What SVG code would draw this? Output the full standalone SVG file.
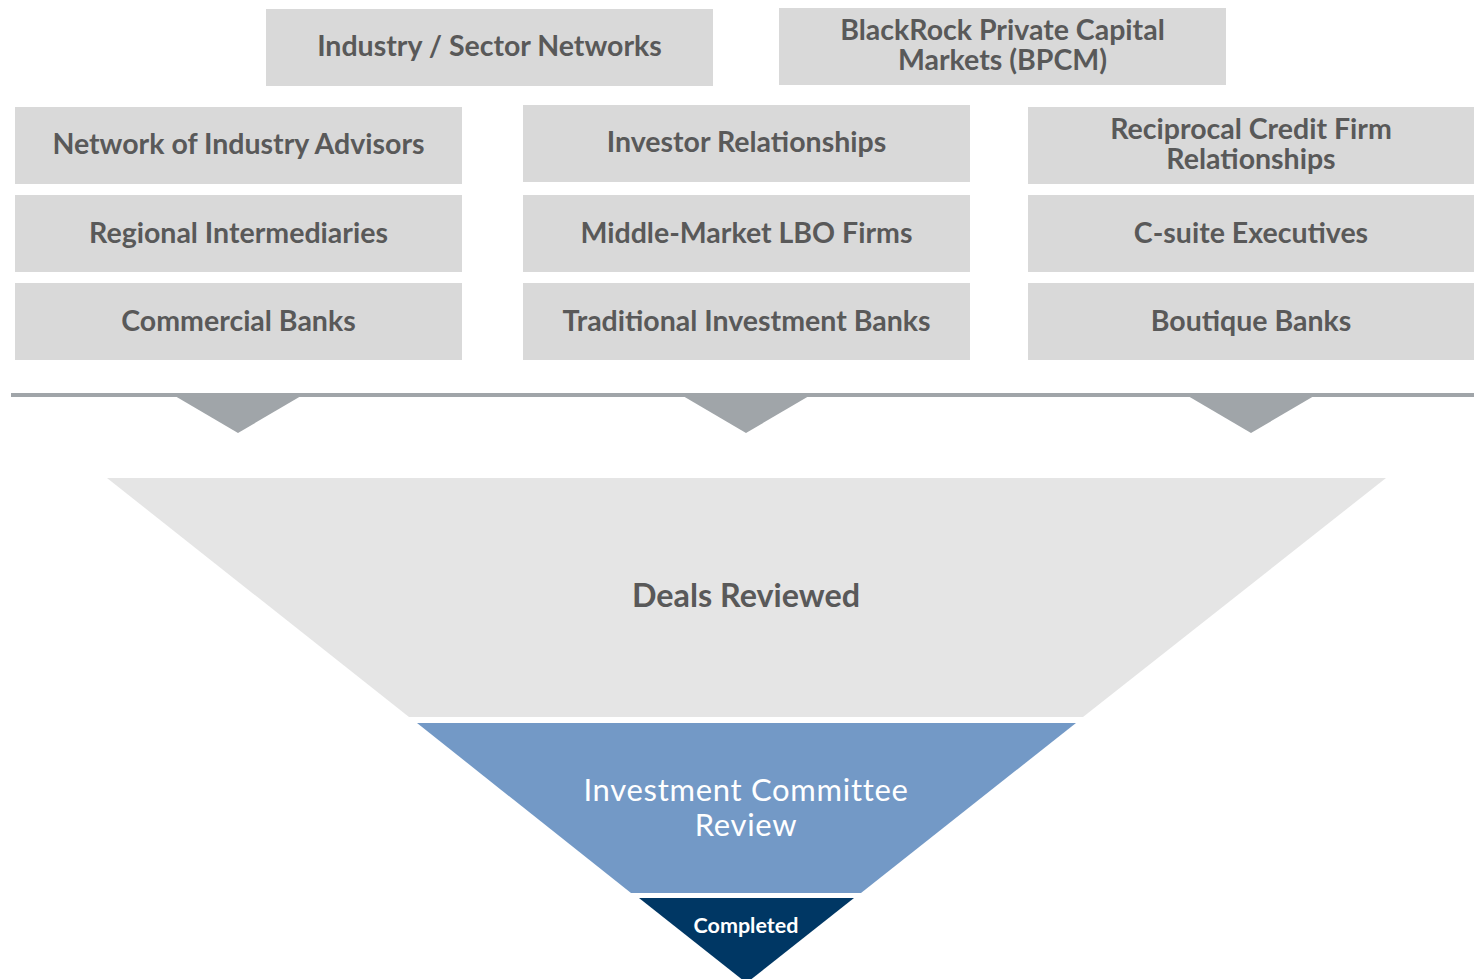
<svg xmlns="http://www.w3.org/2000/svg" width="1474" height="979" viewBox="0 0 1474 979">
<style>
.box{fill:#d9d9d9}
.bt{font-family:Lato,"Noto Sans",sans-serif;font-weight:700;font-size:28.5px;fill:#595959;text-anchor:middle}
.wt{font-family:Lato,"Noto Sans",sans-serif;font-size:31px;letter-spacing:0.7px;fill:#ffffff;text-anchor:middle}
.tri{fill:#a0a5a9}
</style>
<rect width="1474" height="979" fill="#ffffff"/>
<g id="n-industry"><rect class="box" x="266" y="9" width="447" height="77"/><text class="bt" x="489.5" y="56">Industry / Sector Networks</text></g>
<g id="n-bpcm"><rect class="box" x="779" y="8" width="447" height="77"/><text class="bt" x="1002.5" y="40"><tspan x="1002.5" y="40">BlackRock Private Capital</tspan><tspan x="1002.5" y="70">Markets (BPCM)</tspan></text></g>
<g id="n-advisors"><rect class="box" x="15" y="107" width="447" height="77"/><text class="bt" x="238.5" y="154">Network of Industry Advisors</text></g>
<g id="n-investor"><rect class="box" x="523" y="105" width="447" height="77"/><text class="bt" x="746.5" y="152">Investor Relationships</text></g>
<g id="n-reciprocal"><rect class="box" x="1028" y="107" width="446" height="77"/><text class="bt" x="1251" y="139"><tspan x="1251" y="139">Reciprocal Credit Firm</tspan><tspan x="1251" y="169">Relationships</tspan></text></g>
<g id="n-regional"><rect class="box" x="15" y="195" width="447" height="77"/><text class="bt" x="238.5" y="243">Regional Intermediaries</text></g>
<g id="n-lbo"><rect class="box" x="523" y="195" width="447" height="77"/><text class="bt" x="746.5" y="243">Middle-Market LBO Firms</text></g>
<g id="n-csuite"><rect class="box" x="1028" y="195" width="446" height="77"/><text class="bt" x="1251" y="243">C-suite Executives</text></g>
<g id="n-commercial"><rect class="box" x="15" y="283" width="447" height="77"/><text class="bt" x="238.5" y="331">Commercial Banks</text></g>
<g id="n-traditional"><rect class="box" x="523" y="283" width="447" height="77"/><text class="bt" x="746.5" y="331">Traditional Investment Banks</text></g>
<g id="n-boutique"><rect class="box" x="1028" y="283" width="446" height="77"/><text class="bt" x="1251" y="331">Boutique Banks</text></g>
<g id="connectors">
<rect x="11" y="393" width="1463" height="4" fill="#a0a5a9"/>
<polygon class="tri" points="175,396 301,396 238,433"/>
<polygon class="tri" points="683,396 809,396 746,433"/>
<polygon class="tri" points="1188,396 1314,396 1251,433"/>
</g>
<g id="n-deals"><polygon points="107,478 1386,478 1083,717 409,717" fill="#e5e5e5"/><text class="bt" x="746" y="607" style="font-size:32.3px">Deals Reviewed</text></g>
<g id="n-ic"><polygon points="417,723 1076,723 861,893 631,893" fill="#7399c6"/><text class="wt" x="746" y="801"><tspan x="746" y="801">Investment Committee</tspan><tspan x="746" y="836">Review</tspan></text></g>
<g id="n-completed"><polygon points="639,898 854,898 746.5,983" fill="#003764"/><text x="746" y="933" style="font-family:Lato,'Noto Sans',sans-serif;font-weight:700;font-size:21.5px;fill:#ffffff;text-anchor:middle">Completed</text></g>
</svg>
